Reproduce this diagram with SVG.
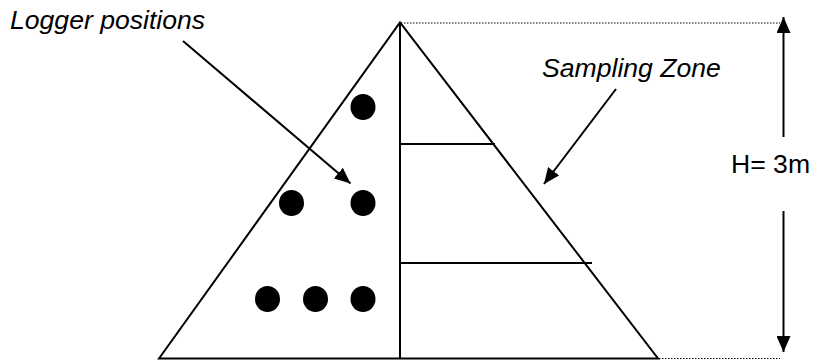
<svg xmlns="http://www.w3.org/2000/svg" width="813" height="360" viewBox="0 0 813 360">
<style>
.ln{stroke:#000;stroke-width:2;fill:none}
.dot{fill:#000}
.dash{stroke:#000;stroke-width:1.2;stroke-dasharray:1.5 1.5;fill:none}
.lbl{font-family:"Liberation Sans",Arial,sans-serif;font-size:26.6px;fill:#000}
.it{font-style:italic}
</style>
<defs>
<marker id="ah2" viewBox="0 0 10 10" refX="10" refY="5" markerWidth="16" markerHeight="14" markerUnits="userSpaceOnUse" orient="auto" preserveAspectRatio="none">
<path d="M0,0 L10,5 L0,10 Z" fill="#000"/>
</marker>
</defs>
<rect width="813" height="360" fill="#fff"/>
<g id="pyramid">
<path class="ln" d="M159,358.5 L400,22.5 L658,358.5 Z"/>
<line class="ln" x1="400" y1="22.5" x2="400" y2="358.5"/>
<line class="ln" x1="400" y1="144" x2="495" y2="144"/>
<line class="ln" x1="400" y1="263" x2="592" y2="263"/>
</g>
<g id="loggers">
<ellipse class="dot" cx="363" cy="107" rx="12.5" ry="13"/>
<ellipse class="dot" cx="291.5" cy="203" rx="12.5" ry="13"/>
<ellipse class="dot" cx="363" cy="203" rx="12.5" ry="13"/>
<ellipse class="dot" cx="267.5" cy="299" rx="12.5" ry="13"/>
<ellipse class="dot" cx="315.5" cy="299" rx="12.5" ry="13"/>
<ellipse class="dot" cx="363" cy="299" rx="12.5" ry="13"/>
</g>
<g id="dimension">
<line class="dash" x1="401" y1="23" x2="780" y2="23"/>
<line class="dash" x1="659" y1="358.5" x2="780" y2="358.5"/>
<text class="lbl" x="731" y="173">H= 3m</text>
</g>
<g id="labels">
<text class="lbl it" x="10" y="29">Logger positions</text>
<text class="lbl it" x="542" y="77">Sampling Zone</text>
</g>
<g id="connectors">
<line class="ln" x1="183" y1="41" x2="350.5" y2="183.5" marker-end="url(#ah2)"/>
<line class="ln" x1="616" y1="89" x2="544" y2="184" marker-end="url(#ah2)"/>
<line class="ln" x1="783.5" y1="137" x2="783.5" y2="17" marker-end="url(#ah2)"/>
<line class="ln" x1="783.5" y1="211" x2="783.5" y2="352" marker-end="url(#ah2)"/>
</g>
</svg>
